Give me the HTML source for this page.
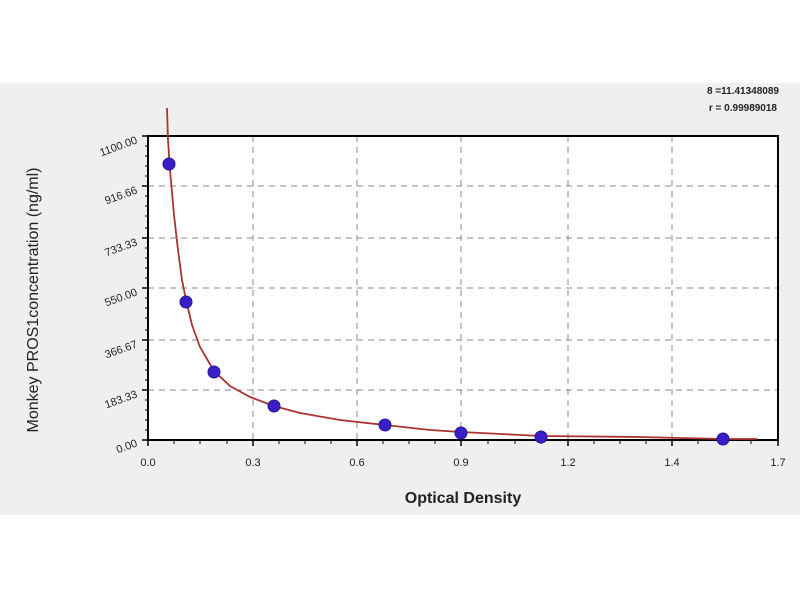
<!DOCTYPE html>
<html><head><meta charset="utf-8"><style>
html,body{margin:0;padding:0;background:#fff;}
svg{display:block;font-family:"Liberation Sans",Arial,sans-serif;}
</style></head><body>
<svg width="800" height="600" viewBox="0 0 800 600">
<rect x="0" y="83" width="800" height="432" fill="#efefef"/>
<rect x="148" y="136" width="630" height="304" fill="#fff"/>
<g stroke="#888" stroke-width="1" stroke-dasharray="6,5">
<line x1="253" y1="136" x2="253" y2="440"/><line x1="357" y1="136" x2="357" y2="440"/>
<line x1="461" y1="136" x2="461" y2="440"/><line x1="568" y1="136" x2="568" y2="440"/>
<line x1="672" y1="136" x2="672" y2="440"/>
<line x1="148" y1="186" x2="778" y2="186"/><line x1="148" y1="238" x2="778" y2="238"/>
<line x1="148" y1="288" x2="778" y2="288"/><line x1="148" y1="340" x2="778" y2="340"/>
<line x1="148" y1="390" x2="778" y2="390"/>
</g>
<rect x="148" y="136" width="630" height="304" fill="none" stroke="#000" stroke-width="2"/>
<g stroke="#000" stroke-width="1.5">
<line x1="142" y1="136" x2="148" y2="136"/><line x1="142" y1="186" x2="148" y2="186"/><line x1="142" y1="238" x2="148" y2="238"/><line x1="142" y1="288" x2="148" y2="288"/><line x1="142" y1="340" x2="148" y2="340"/><line x1="142" y1="390" x2="148" y2="390"/><line x1="142" y1="440" x2="148" y2="440"/>
<line x1="148" y1="440" x2="148" y2="446"/><line x1="253" y1="440" x2="253" y2="446"/><line x1="357" y1="440" x2="357" y2="446"/><line x1="461" y1="440" x2="461" y2="446"/><line x1="568" y1="440" x2="568" y2="446"/><line x1="672" y1="440" x2="672" y2="446"/><line x1="778" y1="440" x2="778" y2="446"/>
</g>
<g stroke="#000" stroke-width="1">
<path d="M145 146h3M145 156h3M145 166h3M145 176h3M145 196h3M145 206h3M145 216h3M145 228h3M145 248h3M145 258h3M145 268h3M145 278h3M145 298h3M145 308h3M145 318h3M145 330h3M145 350h3M145 360h3M145 370h3M145 380h3M145 400h3M145 410h3M145 420h3M145 430h3"/>
<path d="M174 440v4M200 440v4M227 440v4M279 440v4M305 440v4M331 440v4M383 440v4M409 440v4M435 440v4M488 440v4M515 440v4M541 440v4M594 440v4M620 440v4M646 440v4M698 440v4M725 440v4M751 440v4"/>
</g>
<path d="M167 108 L168 140 L170 170 L174 215 L178 250 L182 280 L186 300 L192 325 L200 347 L214 371 L230 386 L250 397 L274 406 L300 413 L340 420 L385 425 L430 430 L461 432 L541 436 L640 437 L680 438 L723 439 L757 439" fill="none" stroke="#a33" stroke-width="1.8"/>
<g fill="#3a1fc8" stroke="#2a1590" stroke-width="1">
<circle cx="169" cy="164" r="6"/><circle cx="186" cy="302" r="6"/><circle cx="214" cy="372" r="6"/><circle cx="274" cy="406" r="6"/><circle cx="385" cy="425" r="6"/><circle cx="461" cy="433" r="6"/><circle cx="541" cy="437" r="6"/><circle cx="723" cy="439" r="6"/>
</g>
<g font-size="11" fill="#222" text-anchor="end">
<text transform="translate(138,143) rotate(-20)">1100.00</text>
<text transform="translate(138,193) rotate(-20)">916.66</text>
<text transform="translate(138,245) rotate(-20)">733.33</text>
<text transform="translate(138,295) rotate(-20)">550.00</text>
<text transform="translate(138,347) rotate(-20)">366.67</text>
<text transform="translate(138,397) rotate(-20)">183.33</text>
<text transform="translate(138,446) rotate(-20)">0.00</text>
</g>
<g font-size="11" fill="#222" text-anchor="middle">
<text x="148" y="466">0.0</text><text x="253" y="466">0.3</text><text x="357" y="466">0.6</text><text x="461" y="466">0.9</text><text x="568" y="466">1.2</text><text x="672" y="466">1.4</text><text x="778" y="466">1.7</text>
</g>
<text x="463" y="503" font-size="16" font-weight="bold" fill="#222" text-anchor="middle">Optical Density</text>
<text transform="translate(38,300) rotate(-90)" font-size="16" fill="#222" text-anchor="middle">Monkey PROS1concentration (ng/ml)</text>
<g font-size="10" fill="#222" text-anchor="end" font-weight="bold">
<text x="779" y="94">8 =11.41348089</text><text x="777" y="111">r = 0.99989018</text>
</g>
</svg>
</body></html>
